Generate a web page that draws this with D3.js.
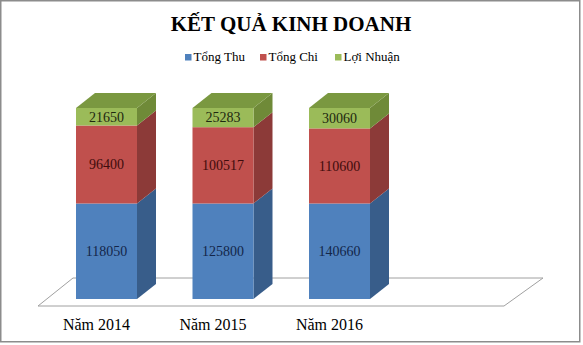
<!DOCTYPE html>
<html>
<head>
<meta charset="utf-8">
<script src="https://cdn.jsdelivr.net/npm/d3@7"></script>
<style>
	body { margin: 0; background: #fff; }
	svg { display: block; font-family: "Liberation Serif", "Times New Roman", serif; }
</style>
</head>
<body>
<svg id="chart" width="583" height="345"></svg>
<script>
// data
var categories = ['Năm 2014', 'Năm 2015', 'Năm 2016'];
var seriesNames = ['Tổng Thu', 'Tổng Chi', 'Lợi Nhuận'];
var tongThu = [118050, 125800, 140660];
var tongChi = [96400, 100517, 110600];
var loiNhuan = [21650, 25283, 30060];

(function() {
	'use strict';

	var svg = d3.select('#chart'),
		depth = { dx: 19, dy: -15 },
		colors = {
			front: ['#4f81bd', '#c0504d', '#9bbb59'],
			side: ['#385d8a', '#8c3a38', '#6f8a38'],
			top: ['#4a6fa0', '#a64543', '#7a9840'],
			text: ['#13264a', '#3f0c0c', '#1e2810']
		};

	// build rows for d3.stack, 100% stacked like the original
	var rows = categories.map(function(c, i) {
		return { cat: c, 'Tổng Thu': tongThu[i], 'Tổng Chi': tongChi[i], 'Lợi Nhuận': loiNhuan[i] };
	});
	var stacked = d3.stack().keys(seriesNames).offset(d3.stackOffsetExpand)(rows);

	var x = d3.scaleBand()
		.domain(categories)
		.range([76, 370])
		.paddingInner(0.4764)
		.paddingOuter(0);

	var y = d3.scaleLinear()
		.domain([0, 1])
		.range([299, 108]);

	// outer frame
	svg.append('rect')
		.attr('x', 0.75).attr('y', 0.75)
		.attr('width', 579).attr('height', 341)
		.attr('fill', '#fff')
		.attr('stroke', '#8c8c8c')
		.attr('stroke-width', 1.5);

	// title
	svg.append('text')
		.attr('x', 291).attr('y', 31)
		.attr('text-anchor', 'middle')
		.attr('font-size', 21)
		.attr('font-weight', 'bold')
		.attr('fill', '#000')
		.text('KẾT QUẢ KINH DOANH');

	// legend
	var legend = svg.append('g').selectAll('g')
		.data(seriesNames)
		.enter().append('g')
		.attr('transform', function(d, i) { return 'translate(' + (185 + i * 75) + ',54)'; });
	legend.append('rect')
		.attr('width', 6.5).attr('height', 6.5)
		.attr('fill', function(d, i) { return colors.front[i]; });
	legend.append('text')
		.attr('x', 8.5).attr('y', 7)
		.attr('font-size', 13)
		.attr('fill', '#000')
		.text(function(d) { return d; });

	// floor of the 3d plot
	var floorFront = 306, floorBack = 278;
	svg.append('path')
		.attr('d', d3.line()([[38, floorFront], [504, floorFront], [543, floorBack], [73, floorBack]]) + 'Z')
		.attr('fill', '#fff')
		.attr('stroke', '#a0a0a0')
		.attr('stroke-width', 1);

	// bars: front face, side face and the top of the last segment
	stacked.forEach(function(layer, si) {
		var g = svg.append('g').attr('class', 'layer');
		layer.forEach(function(d) {
			var cat = d.data.cat,
				x0 = x(cat),
				x1 = x0 + x.bandwidth(),
				yTop = y(d[1]),
				yBot = y(d[0]);

			g.append('path')
				.attr('d', d3.line()([[x1, yBot], [x1, yTop], [x1 + depth.dx, yTop + depth.dy], [x1 + depth.dx, yBot + depth.dy]]) + 'Z')
				.attr('fill', colors.side[si]);

			if (si === stacked.length - 1) {
				g.append('path')
					.attr('d', d3.line()([[x0, yTop], [x0 + depth.dx, yTop + depth.dy], [x1 + depth.dx, yTop + depth.dy], [x1, yTop]]) + 'Z')
					.attr('fill', colors.top[si]);
			}

			g.append('rect')
				.attr('x', x0).attr('y', yTop)
				.attr('width', x.bandwidth())
				.attr('height', yBot - yTop)
				.attr('fill', colors.front[si]);

			g.append('text')
				.attr('x', (x0 + x1) / 2)
				.attr('y', (yTop + yBot) / 2)
				.attr('dy', '0.35em')
				.attr('text-anchor', 'middle')
				.attr('font-size', 14)
				.attr('fill', colors.text[si])
				.text(d.data[seriesNames[si]]);
		});
	});

	// category labels sit under the floor
	svg.append('g').selectAll('text')
		.data(categories)
		.enter().append('text')
		.attr('x', function(d) { return x(d) + x.bandwidth() / 2 - 10; })
		.attr('y', 330)
		.attr('text-anchor', 'middle')
		.attr('font-size', 16)
		.attr('fill', '#000')
		.text(function(d) { return d; });
})();
</script>
</body>
</html>
